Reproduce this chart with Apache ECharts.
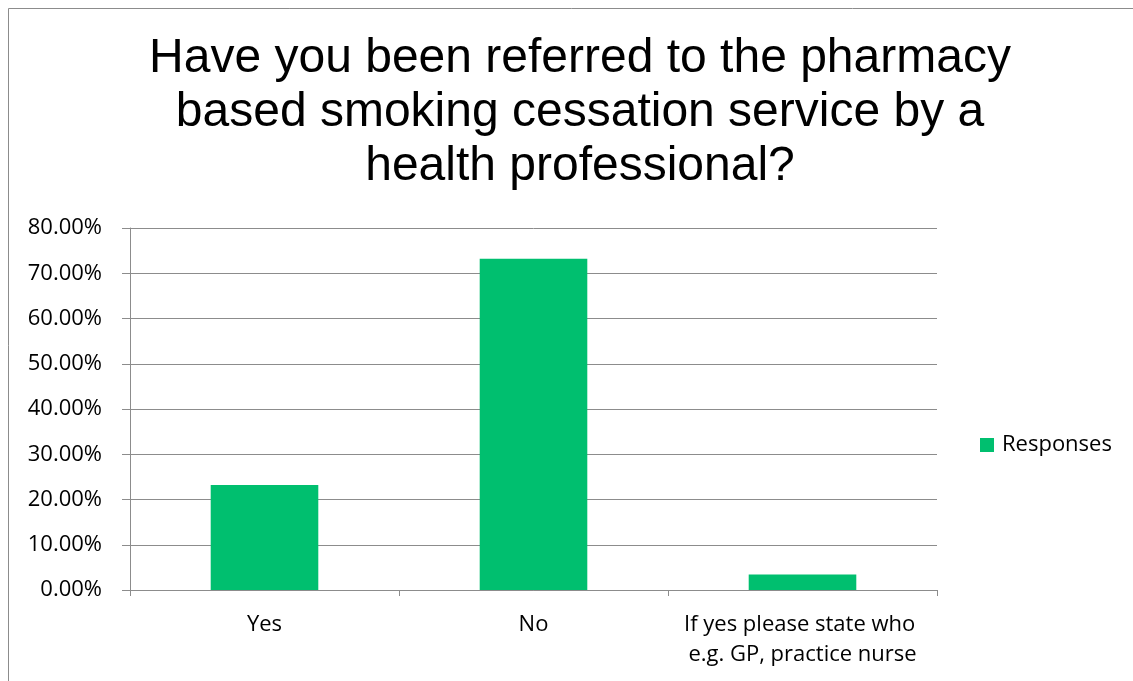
<!DOCTYPE html>
<html>
<head>
<meta charset="utf-8">
<script src="https://cdn.jsdelivr.net/npm/echarts@6/dist/echarts.min.js"></script>
<style>
html,body{margin:0;padding:0;background:#fff;}
#chart{width:1133px;height:681px;}
</style>
</head>
<body>
<div id="chart"></div>
<script>
const titleText = "Have you been referred to the pharmacy\nbased smoking cessation service by a\nhealth professional?";
const categories = ["Yes", "No", "If yes please state who e.g. GP, practice nurse"];
const seriesName = "Responses";
const values = [23.2, 73.2, 3.4];
const yTicks = { min: 0, max: 80, interval: 10 };

const chart = echarts.init(document.getElementById('chart'), null, { renderer: 'canvas' });
const labelFont = "'Open Sans', sans-serif";
chart.setOption({
  animation: false,
  backgroundColor: '#ffffff',
  graphic: [{
    type: 'rect', silent: true, z: -1,
    shape: { x: 8.5, y: 8.5, width: 1300, height: 900 },
    style: { fill: 'none', stroke: '#8c8c8c', lineWidth: 1 }
  }],
  title: {
    text: titleText,
    left: 575, top: 27, textAlign: 'center',
    textStyle: { fontFamily: "'Liberation Sans', Arial, sans-serif", fontSize: 48, fontWeight: 'normal', color: '#000', lineHeight: 54 }
  },
  legend: {
    data: [seriesName],
    orient: 'vertical',
    left: 980, top: 434, padding: 0,
    itemWidth: 14, itemHeight: 14, itemGap: 8,
    icon: 'rect',
    textStyle: { fontFamily: labelFont, fontSize: 22, color: '#000', padding: [0, 0, 0, 3] }
  },
  grid: { left: 130, top: 228, right: 196, bottom: 91, containLabel: false },
  xAxis: {
    type: 'category',
    data: categories,
    axisLine: { lineStyle: { color: '#8c8c8c', width: 1 } },
    axisTick: { show: true, alignWithLabel: false, length: 6, lineStyle: { color: '#8c8c8c' } },
    axisLabel: {
      interval: 0, margin: 20, color: '#000',
      fontFamily: labelFont, fontSize: 22, lineHeight: 30,
      width: 262, overflow: 'break'
    }
  },
  yAxis: {
    type: 'value',
    min: yTicks.min, max: yTicks.max, interval: yTicks.interval,
    axisLine: { show: true, lineStyle: { color: '#8c8c8c', width: 1 } },
    axisTick: { show: true, length: 8, lineStyle: { color: '#8c8c8c' } },
    splitLine: { show: true, lineStyle: { color: '#8c8c8c', width: 1 } },
    axisLabel: {
      margin: 28, color: '#000', fontFamily: labelFont, fontSize: 22,
      formatter: v => v.toFixed(2) + '%'
    }
  },
  series: [{
    name: seriesName,
    type: 'bar',
    data: values,
    barCategoryGap: '60%',
    itemStyle: { color: '#00BF6F' }
  }]
});
</script>
</body>
</html>
